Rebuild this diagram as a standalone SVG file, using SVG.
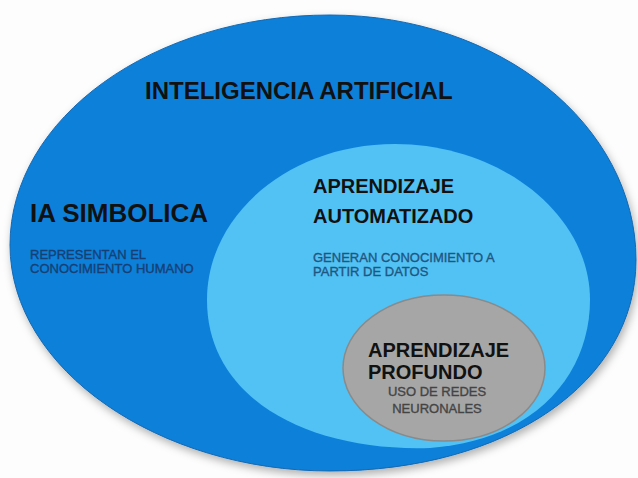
<svg xmlns="http://www.w3.org/2000/svg" width="638" height="478" viewBox="0 0 638 478">
  <defs>
    <filter id="shadow" x="-10%" y="-10%" width="120%" height="125%">
      <feDropShadow dx="2" dy="4" stdDeviation="4" flood-color="#000" flood-opacity="0.3"/>
    </filter>
    <style>
      .title { font-family: "Liberation Sans", Arial, sans-serif; font-weight: bold; fill: #111; }
      .desc { font-family: "Liberation Sans", Arial, sans-serif; font-size: 13px; stroke-width: 0.35; }
      .d-outer { fill: #163f73; stroke: #163f73; }
      .d-mid { fill: #215680; stroke: #215680; }
      .d-gray { fill: #444; stroke: #444; }
    </style>
  </defs>
  <rect width="638" height="478" fill="#fdfdfd"/>

  <g id="inteligencia-artificial">
    <path d="M10,245 C10,118 153,15 330,15 C499,15 636,125 636,260 C636,382 507,471 330,471 C160,471 10,370 10,245 Z"
          fill="#0b80da" stroke="#1668b0" stroke-width="1" filter="url(#shadow)"/>
    <text class="title" x="145" y="99" font-size="24">INTELIGENCIA ARTIFICIAL</text>
  </g>

  <g id="ia-simbolica">
    <text class="title" x="30" y="222" font-size="26">IA SIMBOLICA</text>
    <text class="desc d-outer" x="30" y="259">REPRESENTAN EL</text>
    <text class="desc d-outer" x="30" y="273">CONOCIMIENTO HUMANO</text>
  </g>

  <g id="aprendizaje-automatizado">
    <path d="M207,300 C207,214 290,144 395,144 C500,144 590,214 590,300 C590,370 540,440 430,448 C310,452 207,400 207,300 Z"
          fill="#52c2f5"/>
    <text class="title" x="313" y="193" font-size="20">APRENDIZAJE</text>
    <text class="title" x="313" y="223" font-size="20">AUTOMATIZADO</text>
    <text class="desc d-mid" x="313" y="262">GENERAN CONOCIMIENTO A</text>
    <text class="desc d-mid" x="313" y="276">PARTIR DE DATOS</text>
  </g>

  <g id="aprendizaje-profundo">
    <ellipse cx="444" cy="368" rx="101" ry="73" fill="#a6a6a6" stroke="#8a8a8a" stroke-width="1.5"/>
    <text class="title" x="368" y="357" font-size="20">APRENDIZAJE</text>
    <text class="title" x="368" y="379" font-size="20">PROFUNDO</text>
    <text class="desc d-gray" x="437" y="396" text-anchor="middle">USO DE REDES</text>
    <text class="desc d-gray" x="437" y="413" text-anchor="middle">NEURONALES</text>
  </g>

  <g id="connectors"/>
</svg>
